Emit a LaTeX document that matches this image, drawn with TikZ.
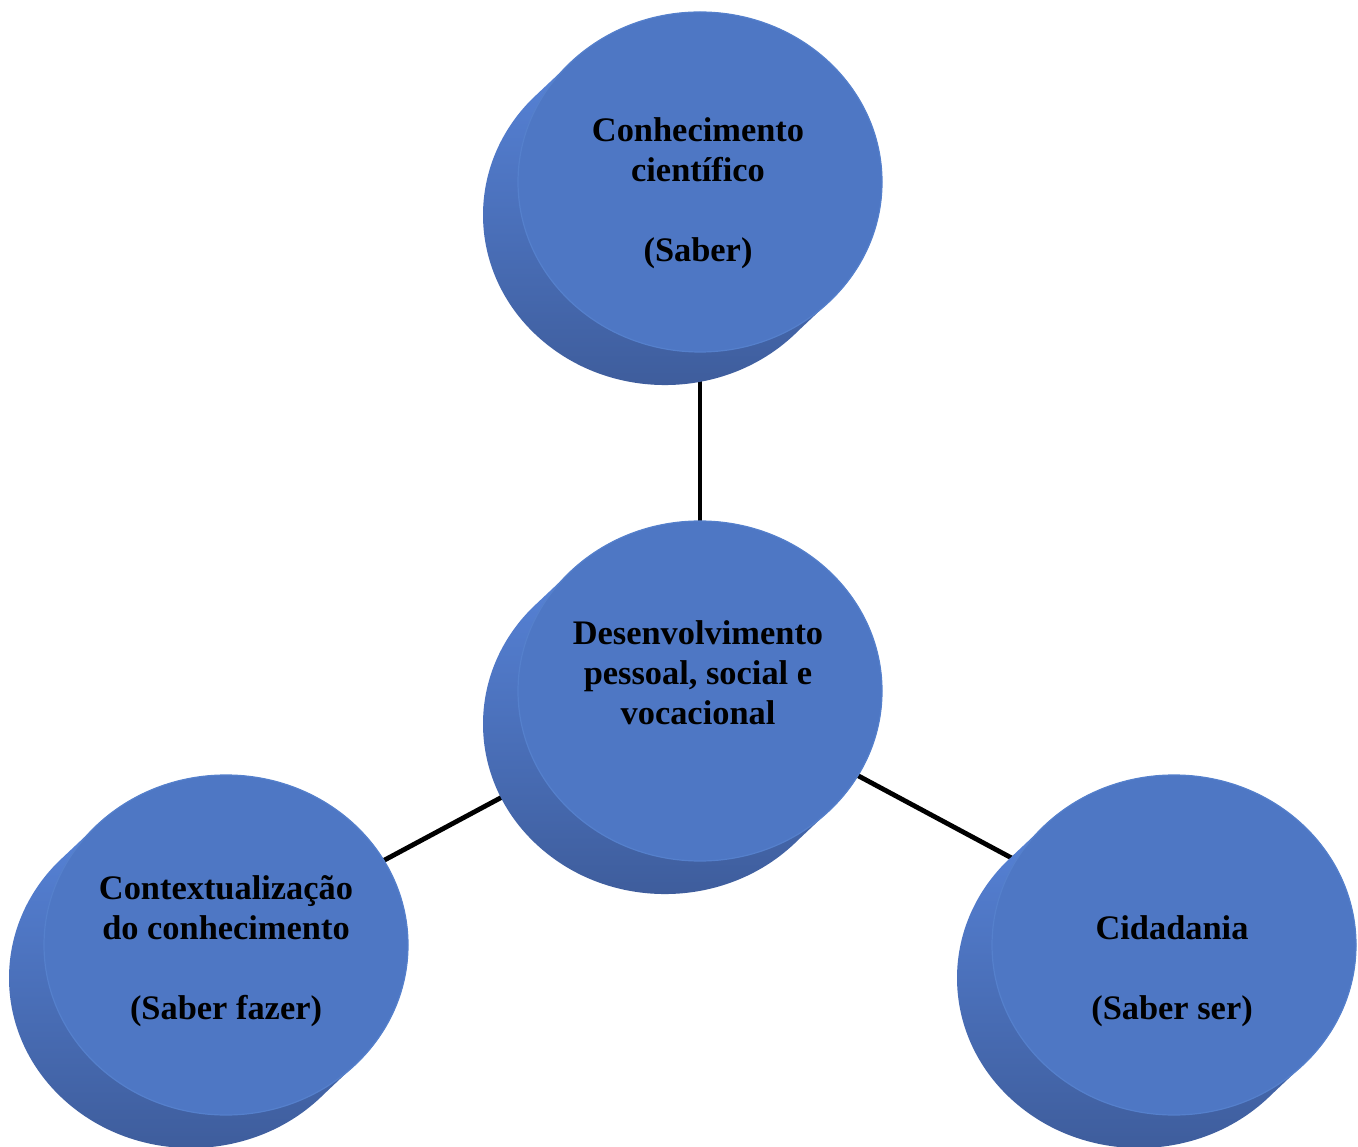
\documentclass[tikz,border=0pt]{standalone}
\usepackage{fontspec}
\setmainfont{Liberation Serif}
\usetikzlibrary{shapes.geometric,backgrounds}
\definecolor{face}{HTML}{4E77C4}
\definecolor{faceedge}{HTML}{5580CC}
\definecolor{sidelight}{HTML}{5B8AE3}
\definecolor{sidedark}{HTML}{3D5B99}
\tikzset{
  discface/.style={ellipse, fill=face, draw=faceedge, line width=0.6pt,
    minimum width=182pt, minimum height=170pt, inner sep=0pt},
  disctext/.style={font=\fontsize{17.2}{20}\selectfont\bfseries, align=center,
    text=black, inner sep=0pt},
  link/.style={draw=black, line width=2.4pt},
}
\newcommand\mydisc[3]{%
  \shade[top color=sidelight, middle color=sidelight!80!sidedark, bottom color=sidedark]
    (#2-133,#3+116) -- ++(-35,-33)
    arc[start angle=136.95, end angle=316.95, x radius=182, y radius=170]
    -- ++(35,33)
    arc[start angle=-43.05, end angle=136.95, x radius=182, y radius=170] -- cycle;
  \node[discface] (#1) at (#2,#3) {};
}
\begin{document}
\begin{tikzpicture}[x=0.5pt, y=0.5pt]
  \useasboundingbox (0,0) rectangle (1358,1146);
  \mydisc{saber}{700}{964}
  \mydisc{desenv}{700}{455}
  \mydisc{fazer}{226}{201}
  \mydisc{ser}{1174}{201}
  \node[disctext] (saberT) at (698,953) {Conhecimento\\científico\\[20pt](Saber)};
  \node[disctext] (desenvT) at (698,473) {Desenvolvimento\\pessoal, social e\\vocacional};
  \node[disctext] (fazerT) at (226,195) {Contextualização\\do conhecimento\\[20pt](Saber fazer)};
  \node[disctext] (serT) at (1172,175) {Cidadania\\[20pt](Saber ser)};
  \begin{pgfonlayer}{background}
    \fill[white] (0,0) rectangle (1358,1146);
    \draw[link] (saber.center) -- (desenv.center);
    \draw[link] (desenv.center) -- (fazer.center);
    \draw[link] (desenv.center) -- (ser.center);
  \end{pgfonlayer}
\end{tikzpicture}
\end{document}
